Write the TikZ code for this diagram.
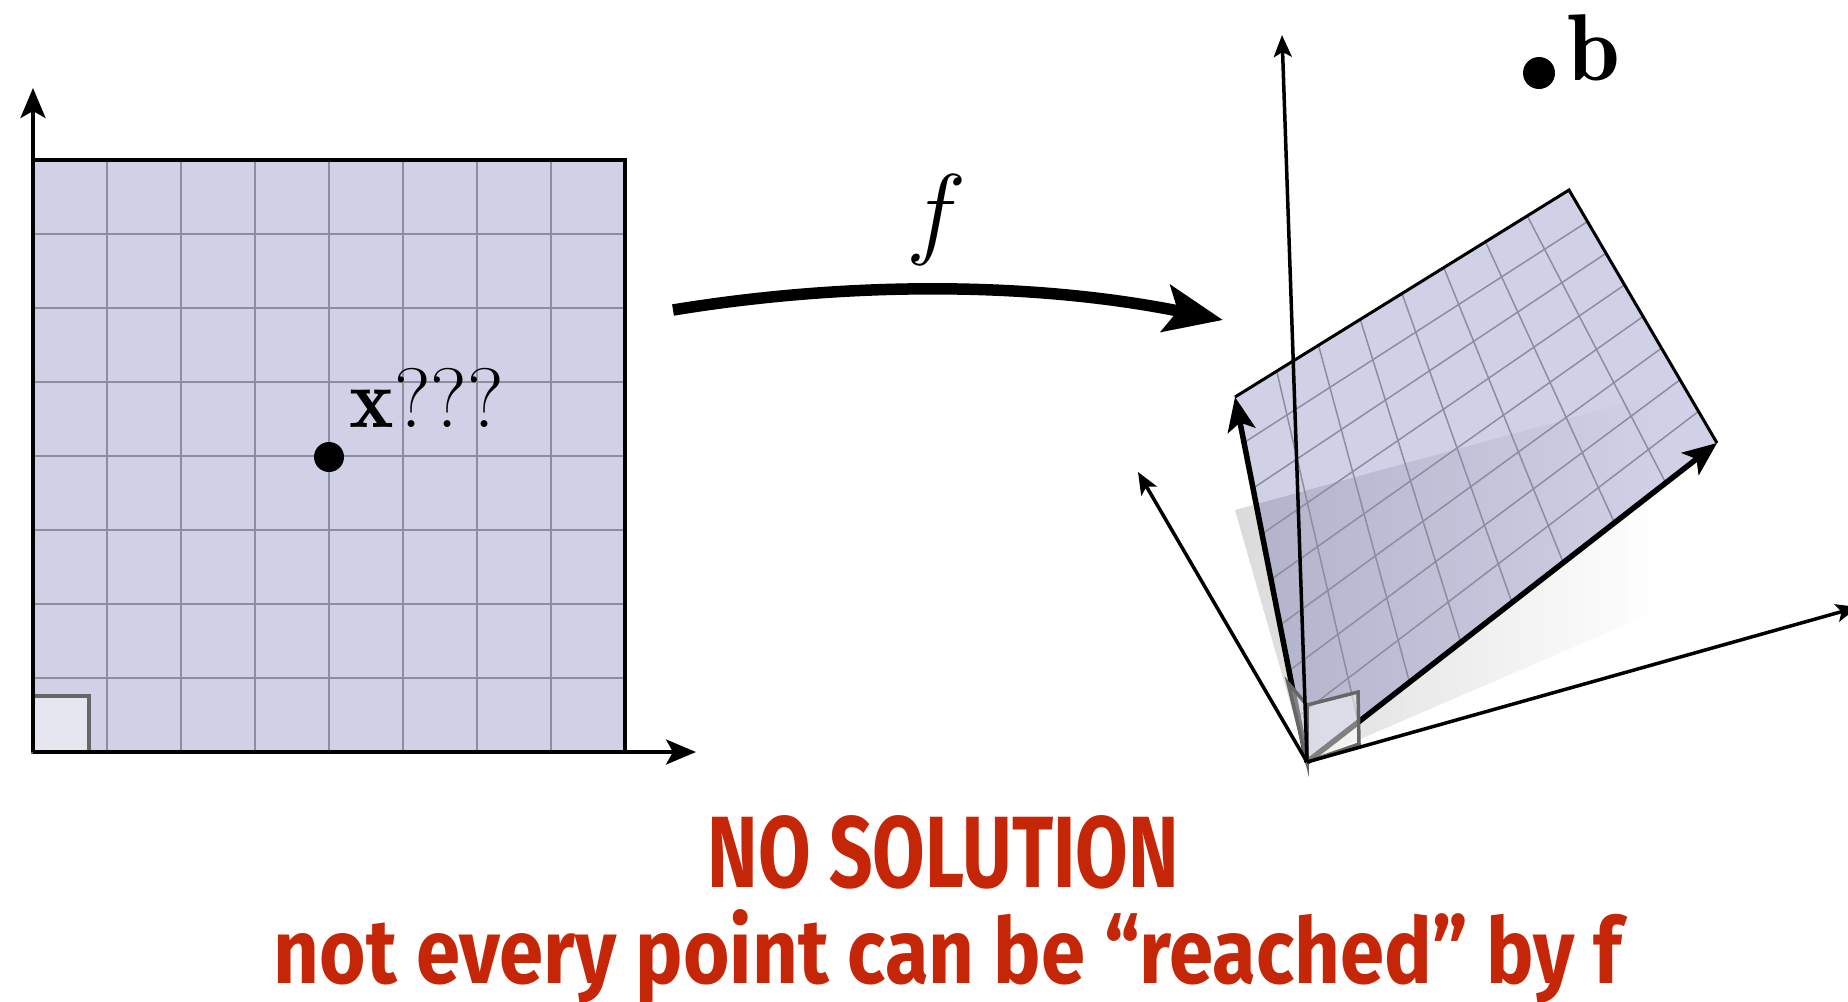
\documentclass[tikz,border=0pt]{standalone}
\usepackage{fix-cm}
\usepackage{fontspec}
\usepackage{graphicx}
\usetikzlibrary{arrows.meta,calc}
\newfontfamily\slidefont{Fira Sans}
\definecolor{planecol}{RGB}{208,209,230}
\definecolor{planedark}{RGB}{178,179,203}
\definecolor{gridcol}{RGB}{140,141,158}
\definecolor{boxcol}{RGB}{230,230,240}
\definecolor{alertred}{RGB}{198,38,8}

\begin{document}
\begin{tikzpicture}[>=Stealth,
    bigaxis/.style={line width=0.035cm,-{Stealth[length=0.30cm,width=0.25cm,inset=0.07cm]}},
    axis/.style={line width=0.035cm,-{Stealth[length=0.22cm,width=0.18cm,inset=0.05cm]}},
    basis/.style={line width=0.055cm,-{Stealth[length=0.34cm,width=0.28cm,inset=0.08cm]}},
    fmap/.style={line width=0.115cm,-{Stealth[length=0.58cm,width=0.47cm,inset=0.12cm]}},
    gridline/.style={gridcol,line width=0.015cm},
    dot/.style={circle,fill=black,inner sep=0pt,minimum size=0.30cm},
    unitbox/.style={fill=white,fill opacity=0.5,draw=black!60,line width=0.035cm}]
    \useasboundingbox (0,0) rectangle (18.48,-10.01);

    % domain
    \coordinate (o1) at (0.33,-7.52);
    \coordinate (ytip1) at (0.33,-0.88);
    \coordinate (xtip1) at (6.96,-7.52);
    \fill[planecol] (o1) rectangle ++(5.92,5.92);
    \foreach \k in {1,...,7} {
        \draw[gridline] ($(o1)+(0.74*\k,0)$) -- ++(0,5.92);
        \draw[gridline] ($(o1)+(0,0.74*\k)$) -- ++(5.92,0);
    }
    \draw[fill=boxcol,draw=black!60,line width=0.035cm] (o1) rectangle ++(0.56,0.56);
    \draw[line width=0.035cm] (0.33,-1.60) -- (6.25,-1.60) -- (6.25,-7.52);
    \draw[bigaxis] (o1) -- (ytip1);
    \draw[bigaxis] (o1) -- (xtip1);
    \node[dot] (xpt) at (3.29,-4.57) {};
    \node[anchor=base west,inner sep=0pt,font=\fontsize{24}{28}\selectfont] (xq) at (3.49,-4.27)
        {$\mathbf{x}$???};

    % the map
    \coordinate (fs) at (6.73,-3.10);
    \coordinate (fe) at (12.23,-3.20);
    \draw[fmap] (fs) .. controls (8.56,-2.80) and (10.40,-2.83) .. (fe);
    \node[font=\fontsize{29}{34}\selectfont] (flbl) at (9.37,-2.20) {$f$};

    % range
    \coordinate (O) at (13.07,-7.62);
    \coordinate (A) at (12.35,-3.97);
    \coordinate (B) at (15.69,-1.90);
    \coordinate (C) at (17.17,-4.43);
    \coordinate (S1) at (12.35,-5.10);
    \coordinate (S2) at (16.55,-3.95);
    \coordinate (S3) at (16.55,-6.12);
    \coordinate (V) at (12.82,-0.35);
    \coordinate (L) at (11.38,-4.72);
    \coordinate (R) at (18.58,-6.07);
    % shadow, fading to the right
    \begin{scope}
        \clip (O) -- (S1) -- (S2) -- (S3) -- cycle;
        \foreach \i in {0,...,29} {
            \pgfmathsetmacro\shd{14*(1-\i/30)}
            \fill[black!\shd] (12.35+0.14*\i,-7.7) rectangle ++(0.15,4.2);
        }
    \end{scope}
    \fill[planecol] (O) -- (A) -- (B) -- (C) -- cycle;
    \begin{scope}
        \clip (O) -- (A) -- (B) -- (C) -- cycle;
        \clip (O) -- (S1) -- (S2) -- (S3) -- cycle;
        \foreach \i in {0,...,29} {
            \pgfmathsetmacro\pct{100*(1-\i/30)}
            \fill[planedark!\pct!planecol] (12.35+0.14*\i,-7.7) rectangle ++(0.15,4.2);
        }
    \end{scope}
    \foreach \k in {1,...,7} {
        \draw[gridline] ($(O)!\k/8!(C)$) -- ($(A)!\k/8!(B)$);
        \draw[gridline] ($(O)!\k/8!(A)$) -- ($(C)!\k/8!(B)$);
    }
    \draw[line width=0.03cm,line join=miter] (A) -- (B) -- (C);
    \draw[basis] (O) -- (A);
    \draw[basis] (O) -- (C);
    \draw[unitbox] (O) -- (13.59,-7.44) -- (13.58,-6.92) -- (13.07,-7.05) -- cycle;
    \draw[unitbox] (O) -- (12.88,-6.83) -- (13.07,-7.05) -- cycle;
    \draw[axis] (O) -- (V);
    \draw[axis] (O) -- (L);
    \draw[axis] (O) -- (R);
    \node[dot,minimum size=0.32cm] (bpt) at (15.39,-0.73) {};
    \node[anchor=base west,inner sep=0pt,font=\fontsize{27}{32}\selectfont] (blbl) at (15.67,-0.80) {$\mathbf{b}$};

    % caption
    \node[anchor=base,inner sep=0pt,text=alertred] (nosol) at (9.435,-8.87)
        {\resizebox{4.71cm}{0.72cm}{\slidefont\bfseries NO SOLUTION}};
    \node[anchor=base,inner sep=0pt,text=alertred] (reach) at (9.48,-9.83)
        {\resizebox{13.48cm}{0.74cm}{\slidefont\bfseries not every point can be “reached” by f}};
\end{tikzpicture}
\end{document}
